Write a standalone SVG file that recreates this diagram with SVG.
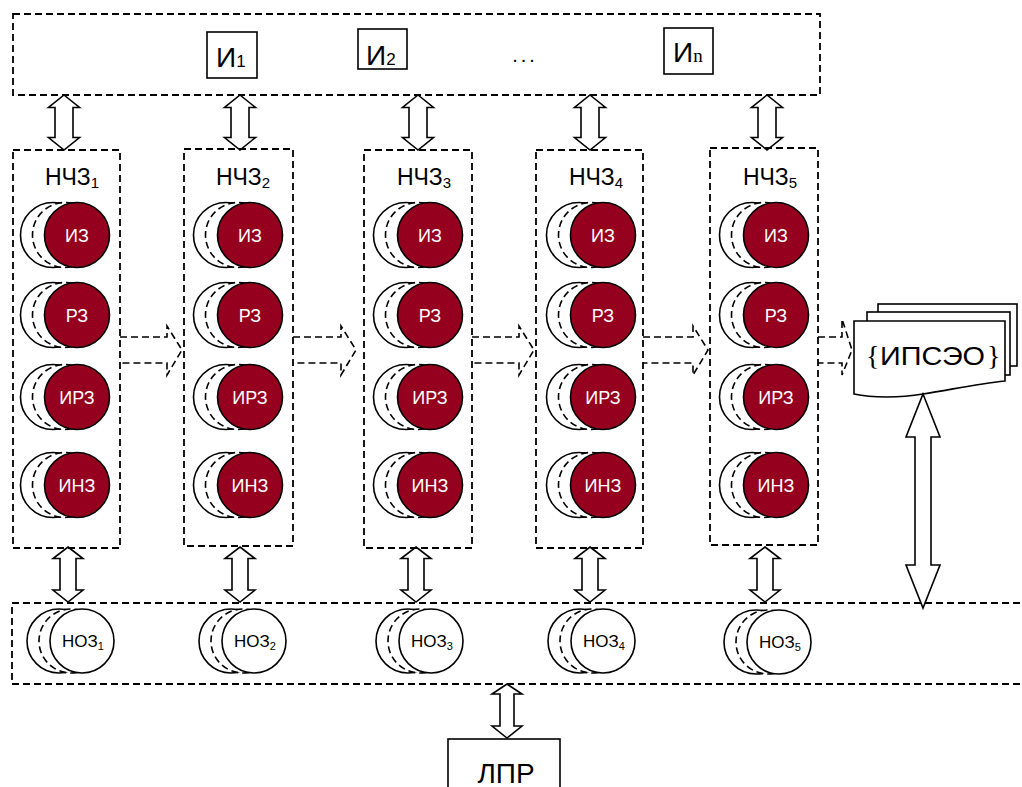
<svg xmlns="http://www.w3.org/2000/svg" xmlns:xlink="http://www.w3.org/1999/xlink" width="1022" height="787" viewBox="0 0 1022 787">
<style>
.dbox{fill:none;stroke:#000;stroke-width:1.8;stroke-dasharray:7 4}
.sbox{fill:#fff;stroke:#000;stroke-width:1.6}
.dar{fill:#fff;stroke:#000;stroke-width:1.6;stroke-linejoin:miter}
.har{fill:none;stroke:#000;stroke-width:1.6;stroke-dasharray:7 4}
.bk{fill:#fff;stroke:#000;stroke-width:1.6}
.md{fill:#fff;stroke:#000;stroke-width:1.6;stroke-dasharray:7 4}
.rd{fill:#96001f;stroke:#000;stroke-width:1.6}
.t{font-family:"Liberation Sans",Arial,sans-serif;fill:#000}
.rt{font-family:"Liberation Sans",Arial,sans-serif;fill:#fff;font-size:18px;text-anchor:middle}
.nt{font-family:"Liberation Sans",Arial,sans-serif;fill:#000;font-size:17px;text-anchor:middle}
.lb{font-family:"Liberation Sans",Arial,sans-serif;fill:#000;font-size:23px;text-anchor:middle}
</style>
<defs>
<path id="da55" d="M0,0 L15.5,12.5 L9,12.5 L9,42.5 L15.5,42.5 L0,55 L-15.5,42.5 L-9,42.5 L-9,12.5 L-15.5,12.5 Z"/>
<path id="db55" d="M0,0 L15,11.5 L8,11.5 L8,43 L15,43 L0,55 L-15,43 L-8,43 L-8,11.5 L-15,11.5 Z"/>
<g id="ritem">
<circle class="bk" cx="-24" cy="0" r="32.5"/>
<circle class="md" cx="-12" cy="0" r="32.5"/>
<circle class="rd" cx="0" cy="0" r="32.5"/>
</g>
<g id="witem">
<circle class="bk" cx="-23" cy="0" r="32"/>
<circle class="md" cx="-11" cy="0" r="32"/>
<circle class="bk" cx="0" cy="0" r="32"/>
</g>
</defs>
<rect width="1022" height="787" fill="#fff"/>

<!-- Sources box -->
<g id="sources">
<rect class="dbox" x="13" y="14" width="807" height="81"/>
<g id="i1">
<rect class="sbox" x="207" y="32" width="50" height="46"/>
<text class="t" x="216" y="67" font-size="28">И<tspan font-size="17">1</tspan></text>
</g>
<g id="i2">
<rect class="sbox" x="358" y="29" width="49" height="40"/>
<text class="t" x="366" y="65" font-size="28">И<tspan font-size="17">2</tspan></text>
</g>
<text class="t" x="525" y="62" font-size="20" letter-spacing="3" text-anchor="middle">...</text>
<g id="in">
<rect class="sbox" x="664" y="28" width="49" height="46"/>
<text class="t" x="673" y="62" font-size="28">И<tspan font-family="Liberation Serif,serif" font-size="19">n</tspan></text>
</g>
</g>

<!-- Connectors -->
<g id="connectors">
<use xlink:href="#da55" href="#da55" class="dar" x="64" y="95"/>
<use xlink:href="#da55" href="#da55" class="dar" x="240" y="95"/>
<use xlink:href="#da55" href="#da55" class="dar" x="418" y="95"/>
<use xlink:href="#da55" href="#da55" class="dar" x="590" y="95"/>
<use xlink:href="#da55" href="#da55" class="dar" x="767" y="95"/>
<use xlink:href="#db55" href="#db55" class="dar" x="68" y="547"/>
<use xlink:href="#db55" href="#db55" class="dar" x="240" y="547"/>
<use xlink:href="#db55" href="#db55" class="dar" x="416" y="547"/>
<use xlink:href="#db55" href="#db55" class="dar" x="590" y="547"/>
<use xlink:href="#db55" href="#db55" class="dar" x="765" y="547"/>
<path class="dar" d="M507,684 L522,694 L514,694 L514,726 L522,726 L507,738 L492,726 L500,726 L500,694 L492,694 Z"/>
<path class="har" d="M120,337 H167 V326 L182,350 L167,375 V363 H120"/>
<path class="har" d="M293,337 H341 V326 L356,350 L341,375 V363 H293"/>
<path class="har" d="M472,337 H519 V326 L534,350 L519,375 V363 H472"/>
<path class="har" d="M643,337 H693 V326 L708,350 L693,375 V363 H643"/>
<path class="har" d="M818,337 H842 V319 L852,350 L842,375 V363 H818"/>
</g>

<!-- Column nodes -->
<g id="nchz1">
<rect class="dbox" x="13" y="150" width="107" height="398"/>
<text class="lb" x="72" y="185">НЧЗ<tspan font-size="15" dy="3">1</tspan></text>
</g>
<g id="nchz2">
<rect class="dbox" x="184" y="149" width="109" height="397"/>
<text class="lb" x="243" y="185">НЧЗ<tspan font-size="15" dy="3">2</tspan></text>
</g>
<g id="nchz3">
<rect class="dbox" x="364" y="150" width="108" height="398"/>
<text class="lb" x="424" y="185">НЧЗ<tspan font-size="15" dy="3">3</tspan></text>
</g>
<g id="nchz4">
<rect class="dbox" x="536" y="150" width="107" height="398"/>
<text class="lb" x="596" y="185">НЧЗ<tspan font-size="15" dy="3">4</tspan></text>
</g>
<g id="nchz5">
<rect class="dbox" x="710" y="148" width="108" height="397"/>
<text class="lb" x="770" y="185">НЧЗ<tspan font-size="15" dy="3">5</tspan></text>
</g>

<!-- Circle items -->
<g id="items-c1">
<use xlink:href="#ritem" href="#ritem" x="77" y="235"/><text class="rt" x="77" y="242">ИЗ</text>
<use xlink:href="#ritem" href="#ritem" x="77" y="315"/><text class="rt" x="77" y="322">РЗ</text>
<use xlink:href="#ritem" href="#ritem" x="77" y="397"/><text class="rt" x="77" y="404">ИРЗ</text>
<use xlink:href="#ritem" href="#ritem" x="77" y="485"/><text class="rt" x="77" y="492">ИНЗ</text>
</g>
<g id="items-c2">
<use xlink:href="#ritem" href="#ritem" x="250" y="235"/><text class="rt" x="250" y="242">ИЗ</text>
<use xlink:href="#ritem" href="#ritem" x="250" y="315"/><text class="rt" x="250" y="322">РЗ</text>
<use xlink:href="#ritem" href="#ritem" x="250" y="397"/><text class="rt" x="250" y="404">ИРЗ</text>
<use xlink:href="#ritem" href="#ritem" x="250" y="485"/><text class="rt" x="250" y="492">ИНЗ</text>
</g>
<g id="items-c3">
<use xlink:href="#ritem" href="#ritem" x="430" y="235"/><text class="rt" x="430" y="242">ИЗ</text>
<use xlink:href="#ritem" href="#ritem" x="430" y="315"/><text class="rt" x="430" y="322">РЗ</text>
<use xlink:href="#ritem" href="#ritem" x="430" y="397"/><text class="rt" x="430" y="404">ИРЗ</text>
<use xlink:href="#ritem" href="#ritem" x="430" y="485"/><text class="rt" x="430" y="492">ИНЗ</text>
</g>
<g id="items-c4">
<use xlink:href="#ritem" href="#ritem" x="603" y="235"/><text class="rt" x="603" y="242">ИЗ</text>
<use xlink:href="#ritem" href="#ritem" x="603" y="315"/><text class="rt" x="603" y="322">РЗ</text>
<use xlink:href="#ritem" href="#ritem" x="603" y="397"/><text class="rt" x="603" y="404">ИРЗ</text>
<use xlink:href="#ritem" href="#ritem" x="603" y="485"/><text class="rt" x="603" y="492">ИНЗ</text>
</g>
<g id="items-c5">
<use xlink:href="#ritem" href="#ritem" x="776" y="235"/><text class="rt" x="776" y="242">ИЗ</text>
<use xlink:href="#ritem" href="#ritem" x="776" y="315"/><text class="rt" x="776" y="322">РЗ</text>
<use xlink:href="#ritem" href="#ritem" x="776" y="397"/><text class="rt" x="776" y="404">ИРЗ</text>
<use xlink:href="#ritem" href="#ritem" x="776" y="485"/><text class="rt" x="776" y="492">ИНЗ</text>
</g>

<!-- ИПСЭО documents -->
<g id="ipseo">
<rect class="sbox" x="878" y="304" width="139" height="62"/>
<rect class="sbox" x="867" y="312" width="143" height="63"/>
<path class="sbox" d="M854,321 H1005 V381 C975,384 950,390 923,394 C900,398 872,398 854,394 Z"/>
<text class="t" y="365" font-size="26"><tspan x="866" font-family="Liberation Serif,serif" font-size="28">{</tspan><tspan x="880" textLength="105" lengthAdjust="spacingAndGlyphs">ИПСЭО</tspan><tspan x="987" font-family="Liberation Serif,serif" font-size="28">}</tspan></text>
</g>
<path class="dar" d="M923,394 L940,437 L931,437 L931,565 L940,565 L923,608 L906,565 L915,565 L915,437 L906,437 Z"/>

<!-- НОЗ box -->
<g id="noz">
<rect class="dbox" x="12" y="603" width="1030" height="81"/>
<g id="noz1"><use xlink:href="#witem" href="#witem" x="82" y="641"/><text class="nt" x="83" y="647">НОЗ<tspan font-size="11" dy="3">1</tspan></text></g>
<g id="noz2"><use xlink:href="#witem" href="#witem" x="254" y="641"/><text class="nt" x="255" y="647">НОЗ<tspan font-size="11" dy="3">2</tspan></text></g>
<g id="noz3"><use xlink:href="#witem" href="#witem" x="431" y="641"/><text class="nt" x="432" y="647">НОЗ<tspan font-size="11" dy="3">3</tspan></text></g>
<g id="noz4"><use xlink:href="#witem" href="#witem" x="603" y="641"/><text class="nt" x="604" y="647">НОЗ<tspan font-size="11" dy="3">4</tspan></text></g>
<g id="noz5"><use xlink:href="#witem" href="#witem" x="779" y="642"/><text class="nt" x="780" y="648">НОЗ<tspan font-size="11" dy="3">5</tspan></text></g>
</g>

<!-- ЛПР -->
<g id="lpr">
<rect class="sbox" x="448" y="739" width="112" height="60"/>
<text class="t" x="506" y="783" font-size="28" text-anchor="middle">ЛПР</text>
</g>
</svg>
